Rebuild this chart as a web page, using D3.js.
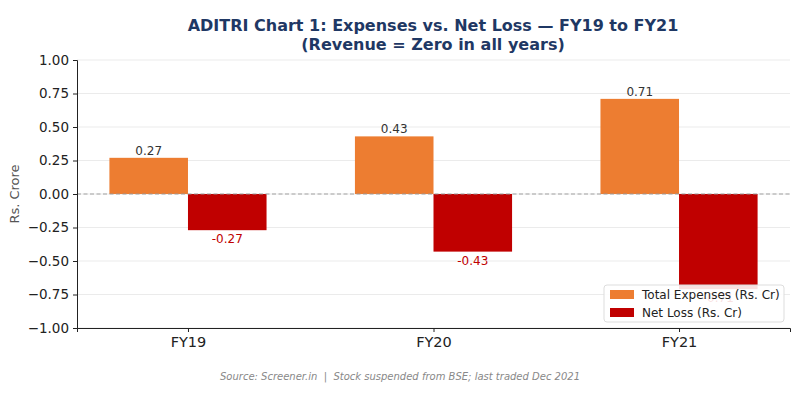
<!DOCTYPE html>
<html><head><meta charset="utf-8">
<script src="https://cdn.jsdelivr.net/npm/d3@7"></script>
<style>body{margin:0;background:#fff}svg{display:block;font-family:"DejaVu Sans",sans-serif}</style>
</head><body><svg id="c" width="800" height="400"></svg>
<script>
const categories = ["FY19","FY20","FY21"];
const expenses = [0.27, 0.43, 0.71];
const netLoss = [-0.27, -0.43, -0.71];
const yTicks = [-1.0,-0.75,-0.5,-0.25,0,0.25,0.5,0.75,1.0];
const seriesNames = ["Total Expenses (Rs. Cr)","Net Loss (Rs. Cr)"];
const colors = ["#ED7D31","#C00000"];

const svg = d3.select("#c");
const L=77,R=790,T=60,B=328;
const x = d3.scaleLinear().domain([-0.452, 2.452]).range([L,R]);
const y = d3.scaleLinear().domain([-1,1]).range([B,T]);
const bw = 0.32;

svg.append("g").selectAll("line").data(yTicks).join("line")
  .attr("x1",L).attr("x2",R).attr("y1",d=>y(d)).attr("y2",d=>y(d))
  .attr("stroke","#e6e6e6").attr("stroke-width",0.8);

const bars = svg.append("g");
bars.selectAll(".e").data(expenses).join("rect")
  .attr("x",(d,i)=>x(i-bw)).attr("width",x(bw)-x(0))
  .attr("y",d=>y(d)).attr("height",d=>y(0)-y(d)).attr("fill",colors[0]);
bars.selectAll(".n").data(netLoss).join("rect")
  .attr("x",(d,i)=>x(i)).attr("width",x(bw)-x(0))
  .attr("y",y(0)).attr("height",d=>y(d)-y(0)).attr("fill",colors[1]);

svg.append("line").attr("x1",L).attr("x2",R).attr("y1",y(0)).attr("y2",y(0))
  .attr("stroke","#999").attr("stroke-width",0.9).attr("stroke-dasharray","4,2.5");

svg.append("g").selectAll("text").data(expenses).join("text")
  .attr("x",(d,i)=>x(i-bw/2)).attr("y",d=>y(d)-3).attr("text-anchor","middle")
  .attr("font-size",12).attr("fill","#333").text(d=>d.toFixed(2));
svg.append("g").selectAll("text").data(netLoss).join("text")
  .attr("x",(d,i)=>x(i+bw/2)).attr("y",d=>y(d)+13).attr("text-anchor","middle")
  .attr("font-size",12).attr("fill","#C00000").text(d=>d.toFixed(2));

const yAxis = svg.append("g").attr("transform",`translate(${L},0)`)
  .call(d3.axisLeft(y).tickValues(yTicks).tickSize(4).tickPadding(4)
    .tickFormat(d=>d3.format(".2f")(d).replace("-","\u2212")));
yAxis.selectAll("text").attr("font-size",13.5).attr("fill","#222").attr("font-family","DejaVu Sans");
yAxis.select(".domain").attr("stroke","#222");
yAxis.selectAll(".tick line").attr("stroke","#222");
const xAxis = svg.append("g").attr("transform",`translate(0,${B})`)
  .call(d3.axisBottom(x).tickValues([0,1,2]).tickSize(4).tickPadding(5).tickFormat(i=>categories[i]));
xAxis.selectAll("text").attr("font-size",14.5).attr("fill","#222").attr("font-family","DejaVu Sans");
xAxis.select(".domain").attr("stroke","#222");
xAxis.selectAll(".tick line").attr("stroke","#222");

svg.append("text").attr("transform",`translate(19,${(T+B)/2}) rotate(-90)`)
  .attr("text-anchor","middle").attr("font-size",13).attr("fill","#555").text("Rs. Crore");

const title = svg.append("text").attr("text-anchor","middle").attr("font-weight","bold")
  .attr("font-size",16).attr("fill","#1F3864");
title.append("tspan").attr("x",433).attr("y",31).text("ADITRI Chart 1: Expenses vs. Net Loss \u2014 FY19 to FY21");
title.append("tspan").attr("x",433).attr("y",50).text("(Revenue = Zero in all years)");

const lg = svg.append("g").attr("transform","translate(604,285)");
lg.append("rect").attr("width",180).attr("height",37).attr("rx",3).attr("fill","#fff")
  .attr("fill-opacity",0.88).attr("stroke","#ddd");
seriesNames.forEach((s,i)=>{
  lg.append("rect").attr("x",6).attr("y",5+i*18).attr("width",24).attr("height",9).attr("fill",colors[i]);
  lg.append("text").attr("x",38).attr("y",14+i*18).attr("font-size",12).attr("fill","#222").text(s);
});

svg.append("text").attr("x",400).attr("y",380).attr("text-anchor","middle")
  .attr("font-size",10).attr("font-style","italic").attr("fill","#888")
  .style("white-space","pre")
  .text("Source: Screener.in  |  Stock suspended from BSE; last traded Dec 2021");
</script></body></html>
